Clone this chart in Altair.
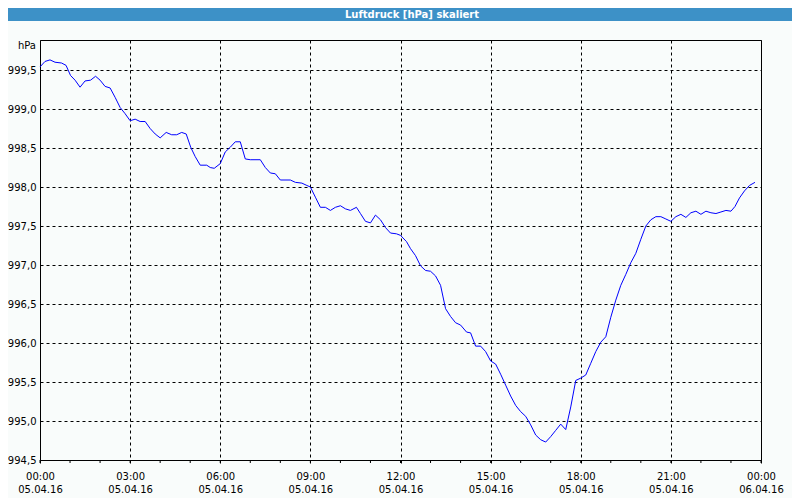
import altair as alt
import pandas as pd

TITLE = "Luftdruck [hPa] skaliert"
UNIT = "hPa"
DAY = "2016-04-05"

times = [
    "00:00", "00:10", "00:20", "00:30", "00:43", "00:52", "01:01", "01:10", "01:20", "01:30",
    "01:41", "01:51", "02:00", "02:10", "02:20", "02:30", "02:40", "02:50", "03:00", "03:10",
    "03:20", "03:30", "03:40", "03:50", "04:00", "04:12", "04:23", "04:33", "04:43", "04:52",
    "05:01", "05:10", "05:20", "05:33", "05:40", "05:48", "06:00", "06:10", "06:20", "06:30",
    "06:40", "06:50", "07:00", "07:20", "07:30", "07:40", "07:50", "08:00", "08:20", "08:30",
    "08:43", "08:53", "09:00", "09:10", "09:20", "09:30", "09:40", "09:50", "10:00", "10:10",
    "10:20", "10:32", "10:40", "10:50", "11:00", "11:10", "11:20", "11:30", "11:40", "11:52",
    "12:00", "12:12", "12:20", "12:30", "12:40", "12:50", "13:00", "13:10", "13:20", "13:25",
    "13:30", "13:40", "13:50", "14:00", "14:12", "14:20", "14:30", "14:40", "14:50", "15:00",
    "15:10", "15:20", "15:30", "15:40", "15:50", "16:00", "16:10", "16:20", "16:30", "16:40",
    "16:50", "17:00", "17:10", "17:20", "17:30", "17:40", "17:50", "18:00", "18:10", "18:20",
    "18:30", "18:40", "18:50", "19:00", "19:10", "19:20", "19:30", "19:40", "19:50", "20:00",
    "20:10", "20:20", "20:30", "20:40", "20:50", "21:00", "21:10", "21:20", "21:30", "21:40",
    "21:50", "22:00", "22:10", "22:20", "22:30", "22:40", "22:50", "23:00", "23:08", "23:17",
    "23:27", "23:37", "23:48",
]
pressure = [
    999.54, 999.61, 999.63, 999.60, 999.59, 999.56, 999.43, 999.37, 999.28, 999.36,
    999.37, 999.42, 999.37, 999.29, 999.27, 999.15, 999.02, 998.94, 998.85, 998.87,
    998.84, 998.84, 998.75, 998.68, 998.63, 998.70, 998.67, 998.67, 998.70, 998.68,
    998.51, 998.39, 998.28, 998.28, 998.25, 998.24, 998.30, 998.45, 998.51, 998.58,
    998.58, 998.36, 998.35, 998.35, 998.25, 998.18, 998.17, 998.09, 998.09, 998.06,
    998.05, 998.02, 998.00, 997.87, 997.74, 997.74, 997.70, 997.74, 997.76, 997.72,
    997.70, 997.74, 997.66, 997.56, 997.54, 997.64, 997.58, 997.48, 997.41, 997.40,
    997.38, 997.30, 997.21, 997.12, 996.99, 996.93, 996.92, 996.86, 996.74, 996.59,
    996.44, 996.34, 996.26, 996.23, 996.14, 996.13, 995.96, 995.96, 995.89, 995.77,
    995.73, 995.60, 995.46, 995.32, 995.20, 995.12, 995.06, 994.95, 994.82, 994.76,
    994.73, 994.80, 994.88, 994.96, 994.89, 995.18, 995.52, 995.55, 995.59, 995.74,
    995.89, 996.01, 996.08, 996.33, 996.55, 996.74, 996.88, 997.03, 997.15, 997.33,
    997.50, 997.58, 997.62, 997.62, 997.59, 997.56, 997.62, 997.65, 997.61, 997.67,
    997.69, 997.65, 997.69, 997.67, 997.66, 997.68, 997.70, 997.69, 997.75, 997.86,
    997.95, 998.02, 998.06,
]
y_ticks = [994.5, 995.0, 995.5, 996.0, 996.5, 997.0, 997.5, 998.0, 998.5, 999.0, 999.5]
y_top = 999.885
major_hours = [0, 3, 6, 9, 12, 15, 18, 21, 24]
minor_hours = list(range(25))

FONT = "DejaVu Sans"
base = pd.Timestamp(DAY)


def dt(h):
    return alt.DateTime(year=2016, month=4, date=5 + h // 24, hours=h % 24)


df = pd.DataFrame({"t": [pd.Timestamp(f"{DAY}T{t}") for t in times], "p": pressure})
ticks_df = pd.DataFrame({"t": [base + pd.Timedelta(hours=h) for h in minor_hours]})
title_df = pd.DataFrame({"label": [TITLE]})
unit_df = pd.DataFrame({"label": [UNIT]})

x_scale = alt.Scale(domain=[dt(0), dt(24)])
y_scale = alt.Scale(domain=[y_ticks[0], y_top], nice=False, zero=False)

x_axis = alt.Axis(
    values=[dt(h) for h in major_hours],
    labelExpr="[timeFormat(datum.value, '%H:%M'), timeFormat(datum.value, '%d.%m.%y')]",
    title=None, grid=True, gridDash=[3, 3], gridColor="#000000", gridOpacity=1, gridWidth=1,
    ticks=True, tickSize=3, tickColor="#000000", domain=False,
    labelFlush=False, labelOverlap=False, labelPadding=8, labelLineHeight=13,
    labelFont=FONT, labelFontSize=10, labelColor="#000000",
    labelAlign="center", labelBaseline="top",
)
y_axis = alt.Axis(
    values=y_ticks,
    labelExpr="replace(format(datum.value, '.1f'), '.', ',')",
    title=None, grid=True, gridDash=[3, 3], gridColor="#000000", gridOpacity=1, gridWidth=1,
    ticks=False, domain=False, labelPadding=4,
    labelFont=FONT, labelFontSize=10, labelColor="#000000",
)

bar = alt.Chart(title_df).mark_rect(color="#3d91c7").encode(
    x=alt.value(-32), x2=alt.value(752), y=alt.value(-32), y2=alt.value(-19)
)
title = alt.Chart(title_df).mark_text(
    color="#ffffff", font=FONT, fontSize=10, fontWeight="bold", align="center", baseline="middle"
).encode(x=alt.value(372), y=alt.value(-25.5), text="label:N")
unit = alt.Chart(unit_df).mark_text(
    color="#000000", font=FONT, fontSize=10, align="right", baseline="middle"
).encode(x=alt.value(-4), y=alt.value(6), text="label:N")

minor = alt.Chart(ticks_df).mark_rule(color="#000000", strokeWidth=1).encode(
    x=alt.X("t:T", scale=x_scale, axis=x_axis),
    y=alt.value(420), y2=alt.value(423),
)
line = alt.Chart(df).mark_line(color="#0000ff", strokeWidth=1).encode(
    x=alt.X("t:T", scale=x_scale, axis=x_axis),
    y=alt.Y("p:Q", scale=y_scale, axis=y_axis),
)

chart = alt.layer(bar, title, unit, minor, line).properties(
    width=721, height=420,
    autosize=alt.AutoSizeParams(type="none"),
    padding={"left": 32, "top": 32, "right": 31, "bottom": 38},
    background="#f9fcfb",
).configure_view(stroke="#000000", strokeWidth=1)

chart.save("out.html", embed_options={"renderer": "svg", "actions": False})
